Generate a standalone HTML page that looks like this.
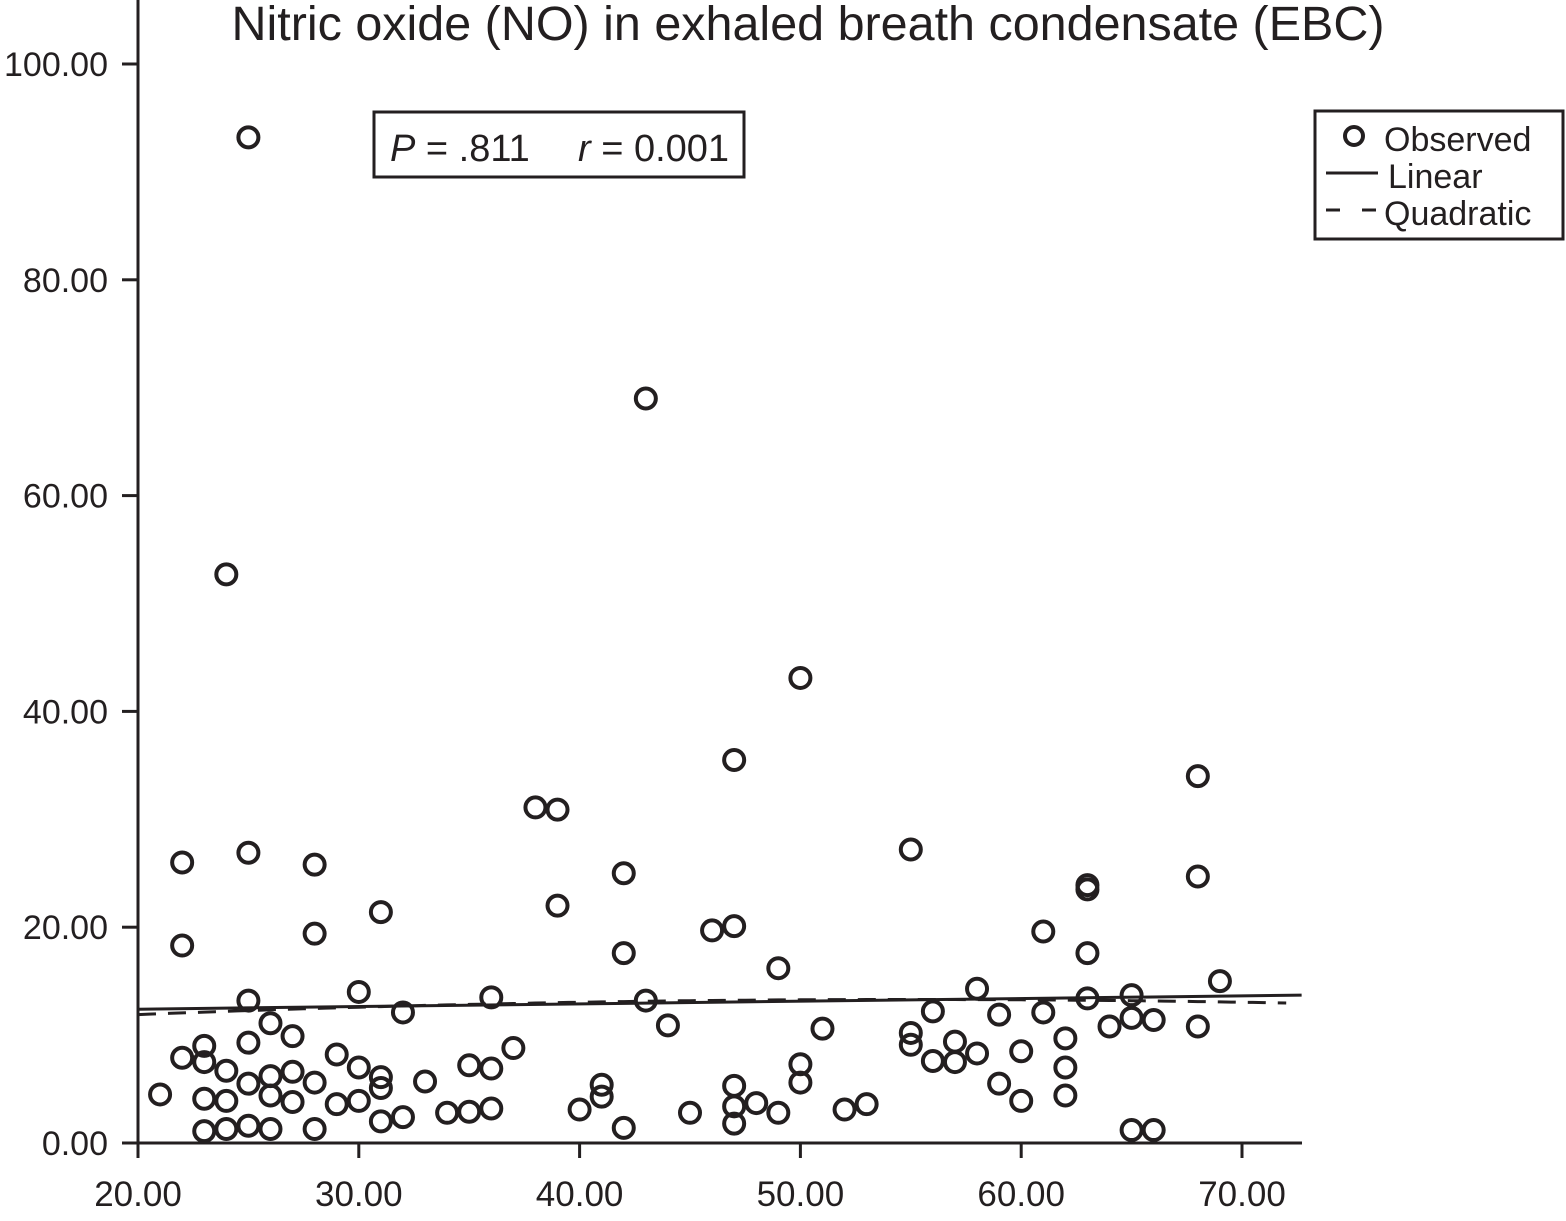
<!DOCTYPE html>
<html><head><meta charset="utf-8"><style>
body{margin:0;background:#fff}
svg{display:block;font-family:"Liberation Sans",Arial,sans-serif}
</style></head><body>
<svg id="chart" width="1566" height="1221" viewBox="0 0 1566 1221">
<text x="808" y="40" font-size="48" text-anchor="middle" fill="#231f20" textLength="1153" lengthAdjust="spacingAndGlyphs">Nitric oxide (NO) in exhaled breath condensate (EBC)</text>
<g id="axes"></g>
<g id="marks"></g>
<g>
<rect x="374" y="112" width="370" height="65" fill="none" stroke="#231f20" stroke-width="3"/>
<text x="390" y="161" font-size="38" fill="#231f20"><tspan font-style="italic">P</tspan> = .811</text>
<text x="578" y="161" font-size="38" fill="#231f20"><tspan font-style="italic">r</tspan> = 0.001</text>
</g>
<g>
<rect x="1315" y="111" width="248" height="128" fill="none" stroke="#231f20" stroke-width="3"/>
<circle cx="1354" cy="136" r="9" fill="none" stroke="#231f20" stroke-width="4"/>
<text x="1384" y="151" font-size="34" fill="#231f20">Observed</text>
<line x1="1326" y1="173" x2="1378" y2="173" stroke="#231f20" stroke-width="3"/>
<text x="1388" y="188" font-size="34" fill="#231f20">Linear</text>
<line x1="1326" y1="210" x2="1378" y2="210" stroke="#231f20" stroke-width="3" stroke-dasharray="14,22"/>
<text x="1384" y="225" font-size="34" fill="#231f20">Quadratic</text>
</g>
</svg>
<script>
const xs=[25,24,43,50,47,68,38,39,22,25,28,55,42,68,63,63,39,31,22,28,46,47,61,42,63,49,69,58,30,25,36,43,63,65,32,56,59,61,65,66,26,44,51,64,68,27,55,55,25,23,57,62,37,22,29,58,60,23,30,35,36,50,56,57,62,24,26,27,31,33,25,28,31,41,47,50,59,21,26,41,62,23,24,27,30,60,29,48,53,47,36,40,52,34,35,45,49,32,31,25,24,23,26,28,42,47,65,66];
const ys=[93.2,52.7,69,43.1,35.5,34,31.1,30.9,26,26.9,25.8,27.2,25,24.7,23.9,23.5,22,21.4,18.3,19.4,19.7,20.1,19.6,17.6,17.6,16.2,15,14.3,14,13.2,13.5,13.2,13.4,13.7,12.1,12.2,11.9,12.1,11.6,11.4,11.1,10.9,10.6,10.8,10.8,9.9,10.2,9.1,9.3,9,9.4,9.7,8.8,7.9,8.2,8.3,8.5,7.5,7,7.2,6.9,7.3,7.6,7.5,7,6.7,6.2,6.6,6.1,5.7,5.5,5.6,5.1,5.4,5.3,5.6,5.5,4.5,4.4,4.3,4.4,4.1,3.9,3.8,3.9,3.9,3.6,3.7,3.6,3.4,3.2,3.1,3.1,2.8,2.9,2.8,2.8,2.4,2,1.6,1.3,1.1,1.3,1.3,1.4,1.8,1.2,1.2];
const xTicks=[20,30,40,50,60,70];
const yTicks=[0,20,40,60,80,100];
const linearCoef=[12.4,0.0247];
const quadCoef=[13.3,55,0.00114];
const xDomain=[20,72.7];
const NS="http://www.w3.org/2000/svg";
const X=v=>138+(v-20)*22.08;
const Y=v=>1143-v*10.79;
const axes=document.getElementById('axes'),marks=document.getElementById('marks');
function mk(tag,attrs,parent){const e=document.createElementNS(NS,tag);for(const k in attrs)e.setAttribute(k,attrs[k]);parent.appendChild(e);return e;}
let e=mk('line',{x1:138,y1:0,x2:138,y2:1143,stroke:'#231f20','stroke-width':3},axes);


e=mk('line',{x1:136,y1:1143,x2:1302,y2:1143,stroke:'#231f20','stroke-width':3},axes);


xTicks.forEach(t=>{
 mk('line',{x1:X(t),y1:1143,x2:X(t),y2:1158,stroke:'#231f20','stroke-width':3},axes);
 const tx=mk('text',{x:X(t),y:1206,'font-size':35,'text-anchor':'middle',fill:'#231f20'},axes);
 tx.textContent=t.toFixed(2);
 
 
});
yTicks.forEach(t=>{
 mk('line',{x1:122,y1:Y(t),x2:138,y2:Y(t),stroke:'#231f20','stroke-width':3},axes);
 const tx=mk('text',{x:108,y:Y(t)+12,'font-size':34,'text-anchor':'end',fill:'#231f20'},axes);
 tx.textContent=t.toFixed(2);
 
 
});
xs.forEach((x,i)=>{
 const c=mk('circle',{cx:X(x),cy:Y(ys[i]),r:10,fill:'none',stroke:'#231f20','stroke-width':4},marks);
 
 
});
const lin=x=>linearCoef[0]+linearCoef[1]*(x-20);
const quad=x=>quadCoef[0]-quadCoef[2]*(x-quadCoef[1])**2;
let l=mk('line',{x1:X(xDomain[0]),y1:Y(lin(xDomain[0])),x2:X(xDomain[1]),y2:Y(lin(xDomain[1])),stroke:'#231f20','stroke-width':3},marks);


let d='';for(let x=xDomain[0];x<=72.2;x+=0.5){d+=(d?'L':'M')+X(x).toFixed(1)+','+Y(quad(x)).toFixed(1);}
const q=mk('path',{d:d,fill:'none',stroke:'#231f20','stroke-width':3,'stroke-dasharray':'18,12'},marks);


</script>
</body></html>
